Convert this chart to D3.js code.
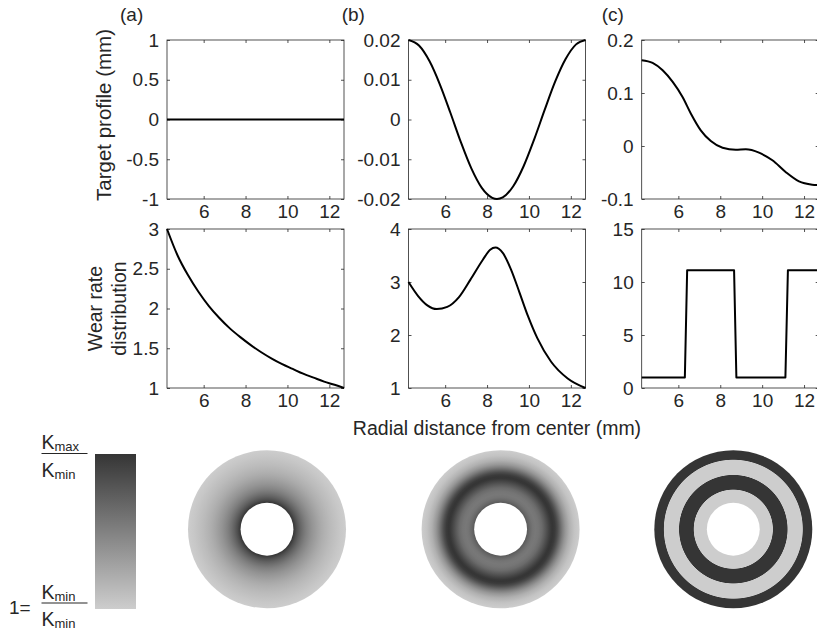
<!DOCTYPE html>
<html>
<head>
<meta charset="utf-8">
<script src="https://cdn.jsdelivr.net/npm/d3@7"></script>
<style>
  body { margin: 0; background: #fff; }
  text { font-family: "Liberation Sans", Arial, Helvetica, sans-serif; fill: #262626; }
</style>
</head>
<body>
<script>
// ---- data ----
const xDomain = [4.25, 12.7];
const xTicks = [6, 8, 10, 12];
const panelLetters = ["(a)", "(b)", "(c)"];

// target profiles (mm)
const rProfileA = [4.25, 12.7];
const profileA = [0, 0];
const rProfileB = [4.25, 4.75, 5.25, 5.75, 6.25, 6.75, 7.25, 7.75, 8.25, 8.475, 8.75, 9.25, 9.75, 10.25, 10.75, 11.25, 11.75, 12.25, 12.7];
const profileB = [0.02, 0.0186, 0.0147, 0.0088, 0.0017, -0.0057, -0.0123, -0.0172, -0.0197, -0.02, -0.0196, -0.0168, -0.0117, -0.005, 0.0024, 0.0095, 0.0152, 0.0189, 0.02];
const rProfileC = [4.25, 4.77, 5.25, 5.73, 6.2, 6.6, 7.07, 7.55, 8.11, 8.74, 9.22, 9.85, 10.49, 11.12, 11.76, 12.39, 12.7];
const profileC = [0.162, 0.157, 0.143, 0.121, 0.0925, 0.061, 0.0296, 0.0094, -0.0032, -0.007, -0.0063, -0.0126, -0.027, -0.049, -0.0667, -0.073, -0.074];

// wear rate distributions
const rWearA = [4.25, 4.75, 5.25, 5.75, 6.25, 6.75, 7.25, 7.75, 8.25, 8.75, 9.25, 9.75, 10.25, 10.75, 11.25, 11.75, 12.25, 12.7];
const wearA = [3.0, 2.67, 2.42, 2.21, 2.03, 1.88, 1.75, 1.64, 1.54, 1.45, 1.37, 1.3, 1.24, 1.18, 1.13, 1.08, 1.04, 1.0];
const rWearB = [4.25, 4.7, 5.15, 5.6, 6.1, 6.65, 7.2, 7.8, 8.15, 8.4, 8.75, 9.15, 9.55, 9.95, 10.4, 11.05, 11.85, 12.7];
const wearB = [3.0, 2.74, 2.56, 2.49, 2.53, 2.71, 3.04, 3.42, 3.61, 3.65, 3.55, 3.23, 2.8, 2.36, 1.94, 1.5, 1.18, 1.0];
const rWearC = [4.25, 6.31, 6.42, 8.66, 8.77, 11.11, 11.23, 12.7];
const wearC = [1, 1, 11.1, 11.1, 1, 1, 11.1, 11.1];

const profileTicks = [[-1, -0.5, 0, 0.5, 1], [-0.02, -0.01, 0, 0.01, 0.02], [-0.1, 0, 0.1, 0.2]];
const profileTickLabels = [["-1", "-0.5", "0", "0.5", "1"], ["-0.02", "-0.01", "0", "0.01", "0.02"], ["-0.1", "0", "0.1", "0.2"]];
const wearTicks = [[1, 1.5, 2, 2.5, 3], [1, 2, 3, 4], [0, 5, 10, 15]];
const wearTickLabels = [["1", "1.5", "2", "2.5", "3"], ["1", "2", "3", "4"], ["0", "5", "10", "15"]];

// ---- layout ----
const width = 817, height = 634;
const colX = [167, 408.5, 641.7];
const rowY = [40, 229];
const plotW = 177, plotH = 159;
const tickFont = "19px";
const axisColor = "#262626";

const svg = d3.select("body").append("svg")
  .attr("width", width)
  .attr("height", height);

const defs = svg.append("defs");

function drawPanel(x0, y0, rs, vs, yTicks, yLabels, curve) {
  const x = d3.scaleLinear().domain(xDomain).range([x0, x0 + plotW]);
  const y = d3.scaleLinear().domain([yTicks[0], yTicks[yTicks.length - 1]]).range([y0 + plotH, y0]);
  const g = svg.append("g");

  // box
  g.append("rect")
    .attr("x", x0).attr("y", y0)
    .attr("width", plotW).attr("height", plotH)
    .attr("fill", "none")
    .attr("stroke", axisColor)
    .attr("stroke-width", 0.8);

  const bottom = g.append("g").attr("transform", `translate(0,${y0 + plotH})`)
    .call(d3.axisBottom(x).tickValues(xTicks).tickSize(-3).tickPadding(6).tickFormat(d => String(d)));
  const top = g.append("g").attr("transform", `translate(0,${y0})`)
    .call(d3.axisTop(x).tickValues(xTicks).tickSize(-3).tickFormat(""));
  const left = g.append("g").attr("transform", `translate(${x0},0)`)
    .call(d3.axisLeft(y).tickValues(yTicks).tickSize(-3).tickPadding(8).tickFormat((d, i) => yLabels[i]));
  const right = g.append("g").attr("transform", `translate(${x0 + plotW},0)`)
    .call(d3.axisRight(y).tickValues(yTicks).tickSize(-3).tickFormat(""));

  [bottom, top, left, right].forEach(a => {
    a.select(".domain").remove();
    a.selectAll("line").attr("stroke", axisColor).attr("stroke-width", 0.8);
    a.selectAll("text").style("font-size", tickFont).attr("fill", axisColor)
      .style("font-family", "'Liberation Sans', Arial, Helvetica, sans-serif");
  });

  const line = d3.line()
    .x((d, i) => x(rs[i]))
    .y(d => y(d))
    .curve(curve);

  g.append("path")
    .attr("d", line(vs))
    .attr("fill", "none")
    .attr("stroke", "#000")
    .attr("stroke-width", 2)
    .attr("stroke-linejoin", "round");
}

const profiles = [[rProfileA, profileA], [rProfileB, profileB], [rProfileC, profileC]];
const wears = [[rWearA, wearA], [rWearB, wearB], [rWearC, wearC]];

profiles.forEach((p, i) => drawPanel(colX[i], rowY[0], p[0], p[1], profileTicks[i], profileTickLabels[i], d3.curveMonotoneX));
wears.forEach((p, i) => drawPanel(colX[i], rowY[1], p[0], p[1], wearTicks[i], wearTickLabels[i], i === 2 ? d3.curveLinear : d3.curveMonotoneX));

// panel letters
const letterX = [120, 341.7, 601.7];
panelLetters.forEach((t, i) => {
  svg.append("text")
    .attr("x", letterX[i]).attr("y", 21)
    .style("font-size", "19px")
    .text(t);
});

// axis labels
svg.append("text")
  .attr("transform", "translate(110.5,115) rotate(-90)")
  .attr("text-anchor", "middle")
  .style("font-size", "20.5px")
  .text("Target profile (mm)");

svg.append("text")
  .attr("transform", "translate(101.5,308.5) rotate(-90)")
  .attr("text-anchor", "middle")
  .style("font-size", "19.5px")
  .text("Wear rate");

svg.append("text")
  .attr("transform", "translate(126,308.5) rotate(-90)")
  .attr("text-anchor", "middle")
  .style("font-size", "19.5px")
  .text("distribution");

svg.append("text")
  .attr("x", 497).attr("y", 435)
  .attr("text-anchor", "middle")
  .style("font-size", "19.5px")
  .text("Radial distance from center (mm)");

// ---- colour map ----
const lightGray = "#cdcdcd", darkGray = "#353535";

const cbar = defs.append("linearGradient")
  .attr("id", "cbar")
  .attr("x1", 0).attr("y1", 1).attr("x2", 0).attr("y2", 0);
cbar.append("stop").attr("offset", "0%").attr("stop-color", lightGray);
cbar.append("stop").attr("offset", "100%").attr("stop-color", darkGray);

svg.append("rect")
  .attr("x", 95).attr("y", 454)
  .attr("width", 41).attr("height", 155)
  .attr("fill", "url(#cbar)");

// colour bar labels: K_max / K_min and 1 = K_min / K_min
function kLabel(xk, yb, sub) {
  const t = svg.append("text").attr("x", xk).attr("y", yb).style("font-size", "19.5px");
  t.append("tspan").text("K");
  t.append("tspan").attr("dy", 2).style("font-size", "13px").text(sub);
}
function fraction(yTop, subTop, subBottom) {
  kLabel(41.5, yTop, subTop);
  svg.append("line")
    .attr("x1", 41.5).attr("x2", 87.5)
    .attr("y1", yTop + 4.5).attr("y2", yTop + 4.5)
    .attr("stroke", "#262626").attr("stroke-width", 1.2);
  kLabel(41.5, yTop + 27.5, subBottom);
}
fraction(449, "max", "min");
fraction(598.5, "min", "min");
svg.append("text")
  .attr("x", 9).attr("y", 614)
  .style("font-size", "19px")
  .text("1=");

// ---- rings ----
const ringCx = [267, 500.6, 733.3];
const ringCy = 529.2;
const ringR = d3.scaleLinear().domain([0, xDomain[1]]).range([0, 79]);

wears.forEach((p, i) => {
  const [rs, ks] = p;
  const color = d3.scaleLinear().domain([1, d3.max(ks)]).range([lightGray, darkGray]);
  const grad = defs.append("radialGradient")
    .attr("id", "ring" + i)
    .attr("cx", 0.5).attr("cy", 0.5).attr("r", 0.5);
  grad.selectAll("stop")
    .data(rs)
    .join("stop")
    .attr("offset", d => (d / xDomain[1] * 100) + "%")
    .attr("stop-color", (d, j) => color(ks[j]));

  svg.append("circle")
    .attr("cx", ringCx[i]).attr("cy", ringCy)
    .attr("r", ringR(xDomain[1]))
    .attr("fill", `url(#ring${i})`);
  svg.append("circle")
    .attr("cx", ringCx[i]).attr("cy", ringCy)
    .attr("r", ringR(xDomain[0]))
    .attr("fill", "#fff");
});
</script>
</body>
</html>
